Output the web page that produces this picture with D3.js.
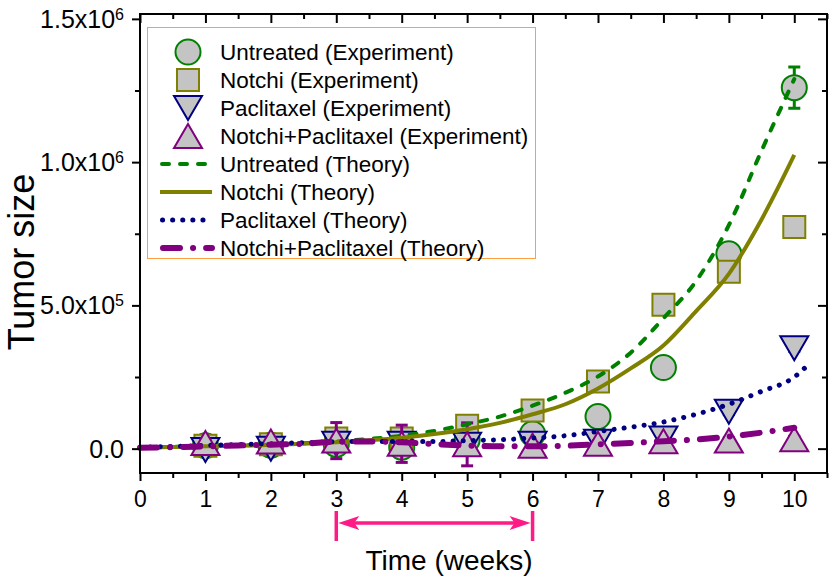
<!DOCTYPE html>
<html>
<head>
<meta charset="utf-8">
<script src="https://cdn.jsdelivr.net/npm/d3@7"></script>
<style>
body { margin: 0; background: #fff; }
text { font-family: "Liberation Sans", Arial, sans-serif; fill: #000; }
</style>
</head>
<body>
<svg id="chart" width="830" height="580"></svg>
<script>
// experiment data (weeks 1..10)
const weeks = [1, 2, 3, 4, 5, 6, 7, 8, 9, 10];
const untreatedExp = [1.0e4, 1.2e4, 1.5e4, 5e3, 3.0e4, 5.2e4, 1.12e5, 2.83e5, 6.8e5, 1.26e6];
const untreatedErr = [1.5e4, 1.5e4, 2e4, 2e4, 3e4, 6.5e4, 1e4, 1e4, 1e4, 7.2e4];
const notchiExp = [1.0e4, 1.5e4, 3.5e4, 3.5e4, 8.0e4, 1.33e5, 2.34e5, 5.02e5, 6.17e5, 7.74e5];
const notchiErr = [3.5e4, 3.5e4, 2.5e4, 1.5e4, 1.5e4, 2e4, 1e4, 1e4, 1e4, 1e4];
const paclitaxelExp = [-5e3, 0, 1.7e4, 1.7e4, 1.4e4, 1.7e4, 2.4e4, 3.5e4, 1.29e5, 3.5e5];
const paclitaxelErr = [1e4, 1e4, 1.5e4, 1.5e4, 1e4, 1e4, 1e4, 1e4, 1e4, 1e4];
const comboExp = [2.0e4, 2.5e4, 2.8e4, 1.7e4, 1.5e4, 1.0e4, 1.7e4, 2.6e4, 2.8e4, 3.3e4];
const comboErr = [1e4, 1e4, 6.3e4, 6.5e4, 7.5e4, 1e4, 1e4, 1e4, 1e4, 1e4];

// theory curves
const theoryWeeks = [0, 0.5, 1, 1.5, 2, 2.5, 3, 3.5, 4, 4.5, 5, 5.5, 6, 6.5, 7, 7.5, 8, 8.5, 9, 9.5, 10];
const untreatedTheory = [4e3, 6e3, 8e3, 1.1e4, 1.4e4, 1.9e4, 2.5e4, 3.4e4, 4.5e4, 6.2e4, 8.5e4, 1.12e5, 1.5e5, 1.95e5, 2.52e5, 3.35e5, 4.55e5, 5.85e5, 7.8e5, 1.04e6, 1.29e6];
const notchiTheory = [4e3, 6e3, 8e3, 1.0e4, 1.3e4, 1.7e4, 2.2e4, 2.9e4, 3.8e4, 5.1e4, 6.8e4, 9.0e4, 1.2e5, 1.55e5, 2.1e5, 2.8e5, 3.6e5, 4.8e5, 6.1e5, 8.0e5, 1.025e6];
const paclitaxelTheoryWeeks = [0, 0.5, 1, 1.5, 2, 2.5, 3, 3.5, 4, 4.5, 5, 5.5, 6, 6.5, 7, 7.5, 8, 8.5, 9, 9.5, 10, 10.2];
const paclitaxelTheory = [5e3, 8e3, 1.1e4, 1.4e4, 1.7e4, 2.1e4, 2.4e4, 2.5e4, 2.5e4, 2.5e4, 2.8e4, 3.1e4, 3.7e4, 4.5e4, 6.0e4, 7.5e4, 9.3e4, 1.2e5, 1.55e5, 2.0e5, 2.5e5, 2.9e5];
const comboTheory = [3e3, 5e3, 8e3, 1.1e4, 1.4e4, 1.7e4, 2.4e4, 2.5e4, 2.2e4, 1.6e4, 1.1e4, 8e3, 8e3, 1e4, 1.5e4, 2e4, 2.6e4, 3.2e4, 4.2e4, 5.6e4, 7.3e4];

// axis ticks
const xMajor = [0, 1, 2, 3, 4, 5, 6, 7, 8, 9, 10];
const xTickLabels = ["0", "1", "2", "3", "4", "5", "6", "7", "8", "9", "10"];
const xMinor = [0.5, 1.5, 2.5, 3.5, 4.5, 5.5, 6.5, 7.5, 8.5, 9.5, 10.5];
const yMajor = [0, 5e5, 1e6, 1.5e6];
const yTickMantissa = ["0.0", "5.0x10", "1.0x10", "1.5x10"];
const yTickExp = ["", "5", "6", "6"];
const yMinor = [2.5e5, 7.5e5, 1.25e6];
const arrowSpan = [3, 6];

const legendLabels = [
    "Untreated (Experiment)", "Notchi (Experiment)", "Paclitaxel (Experiment)",
    "Notchi+Paclitaxel (Experiment)", "Untreated (Theory)", "Notchi (Theory)",
    "Paclitaxel (Theory)", "Notchi+Paclitaxel (Theory)"
];

const GREY = "#c4c4c4";
const colors = { untreated: "#008000", notchi: "#808000", paclitaxel: "#000080", combo: "#800080" };

const svg = d3.select("#chart");
const pLeft = 140, pRight = 827, pTop = 14, pBottom = 473;

let x = d3.scaleLinear().domain([0, 10.5]).range([pLeft, pRight]);
let y = d3.scaleLinear().domain([-0.085e6, 1.517e6]).range([pBottom, pTop]);

// marker shapes
function markerPath(kind) {
    if (kind == "circle") return d3.symbol().type(d3.symbolCircle).size(Math.PI * 12.5 * 12.5)();
    if (kind == "square") return "M-11,-11H11V11H-11Z";
    if (kind == "down") return "M-14,-12L14,-12L0,12Z";
    return "M0,-12L14,12L-14,12Z";
}

let series = [
    { exp: untreatedExp, err: untreatedErr, color: colors.untreated, kind: "circle" },
    { exp: notchiExp, err: notchiErr, color: colors.notchi, kind: "square" },
    { exp: paclitaxelExp, err: paclitaxelErr, color: colors.paclitaxel, kind: "down" },
    { exp: comboExp, err: comboErr, color: colors.combo, kind: "up" },
];

let plot = svg.append("g");

series.forEach(s => {
    let pts = weeks.map((w, i) => ({ w: w, v: s.exp[i], e: s.err[i] }));
    let g = plot.append("g");
    // error bars
    let eb = g.selectAll(".eb").data(pts).join("g")
        .attr("stroke", s.color).attr("stroke-width", 3);
    eb.append("line")
        .attr("x1", d => x(d.w)).attr("x2", d => x(d.w))
        .attr("y1", d => y(d.v + d.e)).attr("y2", d => y(d.v - d.e));
    eb.append("line")
        .attr("x1", d => x(d.w) - 6).attr("x2", d => x(d.w) + 6)
        .attr("y1", d => y(d.v + d.e)).attr("y2", d => y(d.v + d.e));
    eb.append("line")
        .attr("x1", d => x(d.w) - 6).attr("x2", d => x(d.w) + 6)
        .attr("y1", d => y(d.v - d.e)).attr("y2", d => y(d.v - d.e));
    g.selectAll(".mk").data(pts).join("path")
        .attr("d", markerPath(s.kind))
        .attr("transform", d => `translate(${x(d.w)},${y(d.v)})`)
        .attr("fill", GREY)
        .attr("stroke", s.color)
        .attr("stroke-width", 2);
});

// theory lines
let lines = [
    { xs: theoryWeeks, ys: untreatedTheory, color: colors.untreated, width: 4, dash: "7 11", cap: "round" },
    { xs: theoryWeeks, ys: notchiTheory, color: colors.notchi, width: 4, dash: null, cap: "butt" },
    { xs: paclitaxelTheoryWeeks, ys: paclitaxelTheory, color: colors.paclitaxel, width: 5, dash: "0.1 10", cap: "round" },
    { xs: theoryWeeks, ys: comboTheory, color: colors.combo, width: 6, dash: "17 13 0.1 13", cap: "round" },
];

let line = d3.line()
    .x(d => x(d[0]))
    .y(d => y(d[1]))
    .curve(d3.curveMonotoneX);

lines.forEach(l => {
    plot.append("path")
        .datum(l.xs.map((w, i) => [w, l.ys[i]]))
        .attr("fill", "none")
        .attr("stroke", l.color)
        .attr("stroke-width", l.width)
        .attr("stroke-dasharray", l.dash)
        .attr("stroke-linecap", l.cap)
        .attr("d", line);
});

// axes
function styleAxis(g) {
    g.select(".domain").remove();
    g.selectAll(".tick line").attr("stroke", "#000").attr("stroke-width", 2);
}

svg.append("g").attr("transform", `translate(0,${pBottom})`)
    .call(d3.axisBottom(x).tickValues(xMajor).tickSize(8).tickPadding(10).tickFormat((d, i) => xTickLabels[i]))
    .call(styleAxis)
    .call(g => g.selectAll("text").attr("font-size", 23).attr("font-family", "Liberation Sans, Arial, sans-serif"));
svg.append("g").attr("transform", `translate(0,${pBottom})`)
    .call(d3.axisBottom(x).tickValues(xMinor).tickSize(5).tickFormat(""))
    .call(styleAxis);
svg.append("g").attr("transform", `translate(0,${pTop})`)
    .call(d3.axisTop(x).tickValues(xMajor).tickSize(-9).tickFormat(""))
    .call(styleAxis);
svg.append("g").attr("transform", `translate(0,${pTop})`)
    .call(d3.axisTop(x).tickValues(xMinor).tickSize(-5).tickFormat(""))
    .call(styleAxis);

svg.append("g").attr("transform", `translate(${pLeft},0)`)
    .call(d3.axisLeft(y).tickValues(yMajor).tickSize(8).tickFormat(""))
    .call(styleAxis);
svg.append("g").attr("transform", `translate(${pLeft},0)`)
    .call(d3.axisLeft(y).tickValues(yMinor).tickSize(5).tickFormat(""))
    .call(styleAxis);
svg.append("g").attr("transform", `translate(${pRight},0)`)
    .call(d3.axisRight(y).tickValues(yMajor).tickSize(-9).tickFormat(""))
    .call(styleAxis);
svg.append("g").attr("transform", `translate(${pRight},0)`)
    .call(d3.axisRight(y).tickValues(yMinor).tickSize(-5).tickFormat(""))
    .call(styleAxis);

// y tick labels with superscripts
yMajor.forEach((v, i) => {
    let t = svg.append("text")
        .attr("x", 124)
        .attr("y", y(v) + 9)
        .attr("text-anchor", "end")
        .attr("font-size", 25);
    t.append("tspan").text(yTickMantissa[i]);
    if (yTickExp[i]) {
        t.append("tspan").attr("font-size", 16).attr("dy", -8).text(yTickExp[i]);
    }
});

// frame
svg.append("rect")
    .attr("x", pLeft).attr("y", pTop)
    .attr("width", pRight - pLeft).attr("height", pBottom - pTop)
    .attr("fill", "none").attr("stroke", "#000").attr("stroke-width", 2);

// axis titles
svg.append("text")
    .attr("transform", "translate(34,262) rotate(-90)")
    .attr("text-anchor", "middle")
    .attr("font-size", 36)
    .text("Tumor size");
svg.append("text")
    .attr("x", 449).attr("y", 570)
    .attr("text-anchor", "middle")
    .attr("font-size", 28)
    .text("Time (weeks)");

// pink arrow under the axis
const PINK = "#ff1a85";
let ay = 523;
let ax0 = x(arrowSpan[0]), ax1 = x(arrowSpan[1]);
let arrow = svg.append("g");
arrow.append("line").attr("x1", ax0 + 10).attr("x2", ax1 - 10).attr("y1", ay).attr("y2", ay)
    .attr("stroke", PINK).attr("stroke-width", 3.5);
[ax0, ax1].forEach(ax => {
    arrow.append("line").attr("x1", ax).attr("x2", ax).attr("y1", 511).attr("y2", 541)
        .attr("stroke", PINK).attr("stroke-width", 3.5);
});
arrow.append("path")
    .attr("d", `M${ax0 + 2},${ay}L${ax0 + 23},${ay - 7}L${ax0 + 18},${ay}L${ax0 + 23},${ay + 7}Z`)
    .attr("fill", PINK);
arrow.append("path")
    .attr("d", `M${ax1 - 2},${ay}L${ax1 - 23},${ay - 7}L${ax1 - 18},${ay}L${ax1 - 23},${ay + 7}Z`)
    .attr("fill", PINK);

// legend
let legend = svg.append("g");
legend.append("rect")
    .attr("x", 147.5).attr("y", 27.5).attr("width", 388).attr("height", 231)
    .attr("fill", "#fff").attr("stroke", "#ffa040").attr("stroke-width", 1);

legendLabels.forEach((label, i) => {
    let ry = 52 + i * 28;
    if (i < 4) {
        let s = series[i];
        legend.append("path")
            .attr("d", markerPath(s.kind))
            .attr("transform", `translate(188,${ry})`)
            .attr("fill", GREY).attr("stroke", s.color).attr("stroke-width", 2);
    } else {
        let l = lines[i - 4];
        legend.append("line")
            .attr("x1", l.cap == "round" ? 160 + l.width / 2 : 160).attr("x2", 212)
            .attr("y1", ry).attr("y2", ry)
            .attr("stroke", l.color).attr("stroke-width", l.width)
            .attr("stroke-dasharray", l.dash).attr("stroke-linecap", l.cap);
    }
    legend.append("text")
        .attr("x", 220).attr("y", ry + 8)
        .attr("font-size", 22.5)
        .text(label);
});
</script>
</body>
</html>
